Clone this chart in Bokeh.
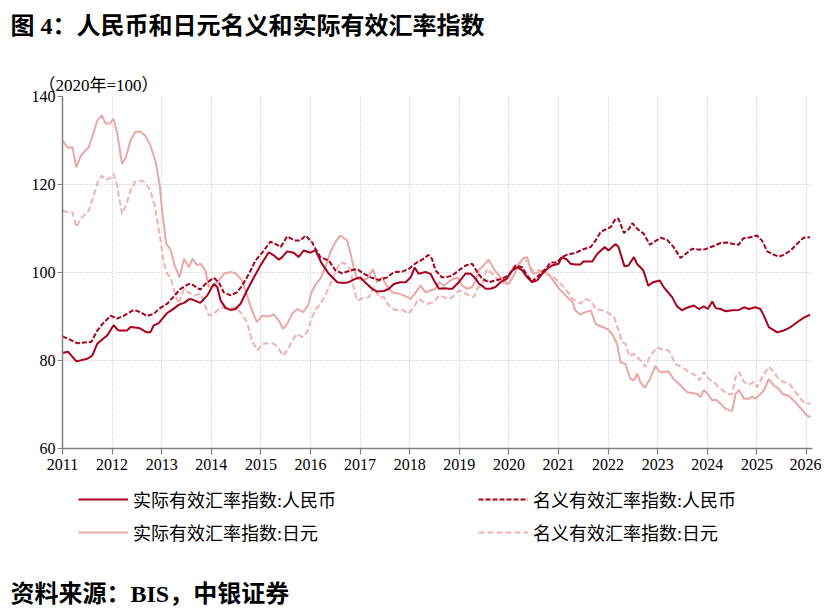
from bokeh.plotting import figure
from bokeh.layouts import column
from bokeh.models import Legend, LegendItem, FixedTicker, Range1d, Title
from bokeh.core.properties import value
from bokeh.embed import file_html
from bokeh.resources import INLINE

# ---------------- data ----------------
title_text = "图 4：人民币和日元名义和实际有效汇率指数"
unit_text = "（2020年=100）"
source_text = "资料来源：BIS，中银证券"
years = list(range(2011, 2027))
year_labels = [str(y) for y in years]
y_ticks = [60, 80, 100, 120, 140]
series_names = ["实际有效汇率指数:人民币", "名义有效汇率指数:人民币",
                "实际有效汇率指数:日元", "名义有效汇率指数:日元"]

rmb_reer_t = [2011.00, 2011.11, 2011.28, 2011.50, 2011.60, 2011.70, 2011.77, 2011.90, 2012.03, 2012.13,
              2012.30, 2012.37, 2012.54, 2012.70, 2012.77, 2012.84, 2012.94, 2013.11, 2013.21, 2013.35,
              2013.45, 2013.55, 2013.61, 2013.78, 2013.92, 2014.05, 2014.12, 2014.19, 2014.29, 2014.39,
              2014.49, 2014.59, 2014.72, 2014.86, 2014.99, 2015.16, 2015.26, 2015.36, 2015.43, 2015.53,
              2015.66, 2015.76, 2015.86, 2016.00, 2016.10, 2016.22, 2016.37, 2016.54, 2016.67, 2016.77,
              2016.91, 2017.00, 2017.10, 2017.24, 2017.34, 2017.48, 2017.58, 2017.68, 2017.81, 2017.92,
              2018.02, 2018.10, 2018.18, 2018.32, 2018.42, 2018.49, 2018.59, 2018.69, 2018.79, 2018.86,
              2018.99, 2019.13, 2019.23, 2019.33, 2019.40, 2019.46, 2019.53, 2019.63, 2019.73, 2019.83,
              2019.96, 2020.07, 2020.17, 2020.27, 2020.37, 2020.47, 2020.57, 2020.67, 2020.77, 2020.87,
              2021.00, 2021.07, 2021.17, 2021.24, 2021.34, 2021.44, 2021.50, 2021.68, 2021.78, 2021.93,
              2022.01, 2022.15, 2022.21, 2022.33, 2022.41, 2022.52, 2022.58, 2022.71, 2022.81, 2022.91,
              2023.04, 2023.12, 2023.29, 2023.39, 2023.49, 2023.59, 2023.73, 2023.83, 2023.93, 2024.01,
              2024.10, 2024.17, 2024.27, 2024.37, 2024.50, 2024.64, 2024.74, 2024.84, 2024.97, 2025.07,
              2025.14, 2025.24, 2025.41, 2025.54, 2025.68, 2025.81, 2025.94, 2026.07]
rmb_reer_v = [81.7, 82.0, 79.8, 80.4, 81.1, 83.8, 84.5, 85.7, 88.0, 86.8,
              86.8, 87.6, 87.4, 86.4, 86.4, 88.0, 88.5, 90.8, 91.5, 92.7,
              93.1, 93.9, 93.9, 93.1, 94.8, 97.4, 96.7, 93.6, 91.9, 91.5,
              91.7, 92.9, 95.9, 98.9, 101.6, 104.6, 103.9, 102.9, 103.5, 104.8,
              104.5, 103.5, 105.0, 104.5, 105.1, 102.2, 99.7, 97.8, 97.6, 97.8,
              98.6, 98.9, 97.8, 96.3, 95.7, 95.8, 96.3, 97.4, 97.8, 97.8,
              98.9, 101.1, 99.7, 100.1, 99.7, 98.2, 96.3, 96.4, 96.3, 96.3,
              97.8, 99.8, 99.7, 98.6, 97.4, 97.0, 96.3, 96.3, 96.7, 97.8,
              98.6, 100.5, 101.2, 100.5, 98.9, 97.8, 98.2, 99.7, 100.8, 101.6,
              102.0, 103.5, 102.9, 102.0, 101.8, 101.8, 102.5, 102.5, 104.2, 105.8,
              105.0, 106.5, 105.8, 101.4, 101.6, 103.5, 102.0, 100.5, 97.0, 97.8,
              98.2, 96.7, 94.4, 92.3, 91.4, 92.0, 92.5, 91.7, 92.3, 91.7,
              93.4, 91.9, 91.7, 91.2, 91.4, 91.5, 92.1, 91.7, 92.1, 91.7,
              90.2, 87.6, 86.4, 86.8, 87.6, 88.7, 89.7, 90.4]

rmb_neer_t = [2011.00, 2011.16, 2011.30, 2011.53, 2011.58, 2011.70, 2011.80, 2011.97, 2012.10, 2012.24,
              2012.44, 2012.57, 2012.70, 2012.84, 2012.94, 2013.11, 2013.24, 2013.38, 2013.55, 2013.61,
              2013.78, 2013.88, 2014.05, 2014.15, 2014.25, 2014.39, 2014.52, 2014.62, 2014.76, 2014.89,
              2015.06, 2015.19, 2015.29, 2015.40, 2015.53, 2015.67, 2015.80, 2015.90, 2016.03, 2016.10,
              2016.20, 2016.37, 2016.50, 2016.64, 2016.81, 2016.94, 2017.08, 2017.21, 2017.38, 2017.55,
              2017.68, 2017.85, 2017.98, 2018.12, 2018.25, 2018.38, 2018.45, 2018.52, 2018.65, 2018.72,
              2018.86, 2018.99, 2019.13, 2019.26, 2019.36, 2019.46, 2019.59, 2019.73, 2019.86, 2019.99,
              2020.13, 2020.27, 2020.37, 2020.47, 2020.60, 2020.74, 2020.84, 2020.97, 2021.07, 2021.20,
              2021.34, 2021.48, 2021.65, 2021.75, 2021.85, 2021.95, 2022.05, 2022.15, 2022.21, 2022.32,
              2022.42, 2022.49, 2022.59, 2022.72, 2022.84, 2022.92, 2023.06, 2023.19, 2023.32, 2023.46,
              2023.56, 2023.70, 2023.83, 2023.93, 2024.10, 2024.27, 2024.40, 2024.53, 2024.63, 2024.73,
              2024.87, 2025.00, 2025.10, 2025.21, 2025.31, 2025.44, 2025.54, 2025.68, 2025.81, 2025.94,
              2026.07]
rmb_neer_v = [85.5, 84.7, 83.9, 84.2, 84.2, 86.8, 88.2, 90.2, 89.5, 90.2,
              91.5, 91.0, 90.1, 90.6, 91.7, 92.9, 94.5, 96.3, 97.4, 97.3,
              96.1, 97.4, 98.8, 97.8, 95.5, 94.8, 95.5, 97.0, 99.7, 102.7,
              105.0, 107.0, 106.5, 105.8, 108.2, 107.3, 107.3, 108.4, 106.9, 105.4,
              103.5, 102.7, 100.5, 99.8, 100.5, 100.8, 99.7, 98.9, 98.3, 98.9,
              100.1, 100.2, 100.8, 102.1, 102.9, 104.0, 103.1, 100.5, 98.9, 98.9,
              99.3, 100.5, 101.6, 102.0, 100.1, 98.6, 97.8, 98.2, 98.6, 99.3,
              101.6, 101.2, 99.3, 98.0, 99.3, 100.8, 102.3, 102.3, 103.5, 104.2,
              104.4, 105.2, 105.8, 107.3, 109.2, 109.8, 110.3, 112.2, 112.2, 109.0,
              109.9, 111.2, 109.9, 108.8, 106.3, 106.9, 107.9, 107.4, 105.8, 103.3,
              104.2, 105.4, 105.2, 105.2, 105.9, 106.7, 106.8, 106.5, 106.3, 107.8,
              108.0, 108.4, 107.3, 104.8, 104.2, 103.6, 104.0, 105.0, 106.5, 107.9,
              108.0]

jpy_reer_t = [2011.00, 2011.11, 2011.20, 2011.28, 2011.37, 2011.53, 2011.63, 2011.70, 2011.79, 2011.87,
              2011.95, 2012.03, 2012.10, 2012.20, 2012.28, 2012.37, 2012.47, 2012.57, 2012.67, 2012.77,
              2012.88, 2012.96, 2013.02, 2013.09, 2013.18, 2013.26, 2013.36, 2013.45, 2013.55, 2013.62,
              2013.72, 2013.78, 2013.88, 2013.95, 2014.05, 2014.15, 2014.25, 2014.39, 2014.49, 2014.62,
              2014.72, 2014.82, 2014.92, 2015.03, 2015.16, 2015.26, 2015.36, 2015.45, 2015.53, 2015.63,
              2015.73, 2015.85, 2015.95, 2016.02, 2016.11, 2016.20, 2016.30, 2016.40, 2016.50, 2016.60,
              2016.74, 2016.80, 2016.87, 2016.94, 2017.04, 2017.14, 2017.26, 2017.34, 2017.44, 2017.54,
              2017.65, 2017.78, 2017.88, 2018.02, 2018.12, 2018.22, 2018.32, 2018.42, 2018.52, 2018.60,
              2018.69, 2018.82, 2018.96, 2019.06, 2019.16, 2019.26, 2019.33, 2019.39, 2019.49, 2019.59,
              2019.70, 2019.80, 2019.90, 2020.00, 2020.10, 2020.20, 2020.30, 2020.37, 2020.44, 2020.50,
              2020.60, 2020.74, 2020.87, 2021.01, 2021.14, 2021.28, 2021.34, 2021.44, 2021.54, 2021.65,
              2021.75, 2021.88, 2021.98, 2022.08, 2022.18, 2022.25, 2022.35, 2022.45, 2022.52, 2022.59,
              2022.65, 2022.74, 2022.83, 2022.95, 2023.04, 2023.22, 2023.32, 2023.45, 2023.59, 2023.70,
              2023.80, 2023.86, 2023.93, 2024.01, 2024.10, 2024.17, 2024.27, 2024.37, 2024.50, 2024.57,
              2024.64, 2024.74, 2024.84, 2024.90, 2024.97, 2025.07, 2025.14, 2025.24, 2025.34, 2025.44,
              2025.52, 2025.64, 2025.78, 2025.91, 2026.01, 2026.08]
jpy_reer_v = [130.0, 128.3, 128.5, 123.9, 126.6, 128.5, 131.9, 134.5, 135.7, 133.8,
              133.9, 134.9, 131.9, 124.7, 126.2, 130.0, 132.0, 132.0, 131.1, 128.9,
              125.1, 119.8, 113.0, 106.5, 105.2, 101.6, 98.9, 103.1, 101.2, 103.1,
              101.6, 102.0, 100.5, 96.7, 97.0, 98.2, 99.7, 100.1, 99.8, 98.2,
              94.8, 91.4, 88.7, 90.2, 90.0, 90.5, 89.1, 87.2, 88.3, 90.6,
              91.7, 91.0, 92.5, 95.5, 97.4, 98.6, 101.2, 104.6, 106.9, 108.4,
              107.3, 104.6, 101.2, 98.6, 98.2, 98.6, 100.8, 97.8, 98.9, 97.0,
              95.5, 95.2, 94.8, 94.0, 95.5, 97.0, 95.5, 95.9, 96.3, 97.8,
              97.0, 98.2, 98.9, 97.0, 96.3, 96.7, 98.2, 100.5, 101.6, 102.9,
              100.8, 99.3, 98.2, 97.4, 99.3, 102.0, 103.3, 103.5, 100.5, 99.7,
              100.1, 100.1, 98.6, 96.3, 94.8, 93.3, 91.4, 90.4, 91.0, 91.4,
              88.3, 87.6, 87.2, 86.1, 83.8, 79.6, 79.2, 75.8, 75.5, 77.0,
              75.1, 73.8, 75.5, 78.7, 77.4, 77.5, 75.8, 74.5, 72.8, 72.6,
              72.4, 71.7, 73.3, 72.4, 70.9, 71.1, 70.2, 69.0, 68.5, 72.4,
              73.3, 71.3, 71.3, 71.8, 71.3, 72.4, 73.2, 75.8, 74.3, 73.6,
              72.4, 72.0, 70.5, 68.8, 67.5, 67.1]

jpy_neer_t = [2011.00, 2011.12, 2011.20, 2011.28, 2011.37, 2011.53, 2011.63, 2011.70, 2011.79, 2011.87,
              2011.95, 2012.03, 2012.10, 2012.20, 2012.28, 2012.37, 2012.47, 2012.57, 2012.67, 2012.77,
              2012.86, 2012.96, 2013.04, 2013.11, 2013.18, 2013.26, 2013.34, 2013.45, 2013.55, 2013.68,
              2013.78, 2013.85, 2013.95, 2014.05, 2014.15, 2014.25, 2014.39, 2014.49, 2014.62, 2014.72,
              2014.82, 2014.93, 2015.03, 2015.16, 2015.26, 2015.36, 2015.44, 2015.53, 2015.63, 2015.73,
              2015.83, 2015.93, 2016.02, 2016.11, 2016.20, 2016.30, 2016.40, 2016.50, 2016.60, 2016.71,
              2016.81, 2016.87, 2016.94, 2017.04, 2017.18, 2017.28, 2017.38, 2017.48, 2017.58, 2017.71,
              2017.85, 2017.98, 2018.08, 2018.18, 2018.28, 2018.38, 2018.49, 2018.59, 2018.69, 2018.79,
              2018.86, 2018.99, 2019.09, 2019.19, 2019.29, 2019.36, 2019.46, 2019.56, 2019.63, 2019.73,
              2019.83, 2019.97, 2020.07, 2020.17, 2020.27, 2020.37, 2020.47, 2020.57, 2020.67, 2020.77,
              2020.87, 2021.01, 2021.14, 2021.28, 2021.34, 2021.44, 2021.54, 2021.65, 2021.75, 2021.88,
              2021.98, 2022.12, 2022.20, 2022.28, 2022.35, 2022.43, 2022.52, 2022.59, 2022.69, 2022.75,
              2022.85, 2022.99, 2023.09, 2023.22, 2023.36, 2023.49, 2023.63, 2023.76, 2023.84, 2023.93,
              2024.03, 2024.13, 2024.27, 2024.40, 2024.50, 2024.57, 2024.64, 2024.74, 2024.84, 2024.94,
              2025.00, 2025.11, 2025.24, 2025.34, 2025.44, 2025.54, 2025.66, 2025.78, 2025.91, 2026.01,
              2026.08]
jpy_neer_v = [114.1, 113.6, 113.7, 110.3, 112.2, 114.1, 117.5, 120.2, 122.0, 121.1,
              121.4, 122.4, 119.8, 113.3, 115.2, 118.6, 120.7, 120.9, 120.5, 118.6,
              115.2, 108.4, 102.3, 99.7, 98.9, 95.5, 92.9, 96.3, 95.4, 94.8,
              95.2, 93.3, 90.2, 90.6, 91.7, 92.1, 91.9, 92.1, 90.6, 88.7,
              84.5, 82.3, 83.8, 83.9, 83.8, 82.7, 81.1, 82.3, 84.5, 86.1,
              85.3, 86.4, 89.5, 91.7, 92.9, 94.8, 97.4, 100.1, 102.3, 102.0,
              100.5, 96.7, 93.6, 94.2, 94.4, 96.7, 94.4, 94.4, 92.5, 91.5,
              91.5, 90.6, 92.1, 94.0, 93.3, 92.9, 93.3, 94.8, 94.4, 94.0,
              94.4, 95.9, 95.5, 94.8, 94.4, 96.3, 97.4, 100.8, 100.1, 98.9,
              97.8, 97.4, 98.9, 101.2, 102.7, 102.7, 100.5, 100.5, 100.5, 99.7,
              99.3, 97.8, 96.3, 94.0, 93.6, 92.9, 94.0, 93.6, 91.7, 91.4,
              91.0, 89.9, 87.2, 84.2, 83.8, 80.9, 81.5, 80.8, 79.6, 78.5,
              81.1, 83.0, 82.5, 82.3, 79.2, 78.5, 77.4, 76.6, 75.5, 77.4,
              75.8, 75.1, 73.6, 72.4, 72.3, 76.2, 77.4, 75.1, 74.5, 75.1,
              73.9, 76.2, 78.6, 77.4, 75.8, 75.1, 74.7, 72.8, 70.9, 70.2,
              70.2]

# ---------------- styling / layout ----------------
DARK = "#A8001E"
LIGHT = "#EBA6A6"
LIGHT_DASH = "#EFB2B2"
SERIF = "'Liberation Serif', 'Noto Sans CJK SC'"

W = 821
H_TOP, H_MAIN, H_BOT = 60, 420, 136
FRAME_L, FRAME_T, FRAME_W, FRAME_H = 62, 36, 750, 352


def blank(height):
    f = figure(width=W, height=height, output_backend="svg", toolbar_location=None,
               x_range=Range1d(0, W), y_range=Range1d(height, 0),
               x_axis_type=None, y_axis_type=None,
               min_border=0, min_border_left=0, min_border_right=0,
               min_border_top=0, min_border_bottom=0, frame_align=False)
    f.outline_line_color = None
    f.xgrid.visible = False
    f.ygrid.visible = False
    f.background_fill_color = "white"
    f.border_fill_color = "white"
    return f


# --- top: title ---
top = blank(H_TOP)
top.text(x=[10], y=[25], text=[title_text], text_font=value(SERIF),
         text_font_size="24px", text_font_style="bold", text_baseline="middle",
         text_color="#000000")

# --- main chart ---
p = figure(width=W, height=H_MAIN, output_backend="svg", toolbar_location=None,
           x_range=Range1d(2011, 2026.121), y_range=Range1d(60, 140),
           min_border_left=FRAME_L, min_border_right=W - FRAME_L - FRAME_W,
           min_border_top=FRAME_T, min_border_bottom=H_MAIN - FRAME_T - FRAME_H,
           frame_align=False)
p.outline_line_color = None
p.background_fill_color = "white"
p.border_fill_color = "white"

unit_title = Title(text=unit_text, align="left", offset=-24, standoff=3,
                   text_font=SERIF, text_font_size="17px", text_font_style="normal",
                   text_color="#000000")
p.add_layout(unit_title, "above")

for ax in (p.xaxis[0], p.yaxis[0]):
    ax.axis_line_color = "#808080"
    ax.axis_line_width = 1.5
    ax.major_tick_line_color = "#808080"
    ax.major_tick_line_width = 1.2
    ax.minor_tick_line_color = None
    ax.major_tick_in = 0
    ax.major_label_text_font = SERIF
    ax.major_label_text_font_size = "16px"
    ax.major_label_text_color = "#000000"

p.xaxis.ticker = FixedTicker(ticks=years)
p.xaxis.major_label_overrides = {y: lab for y, lab in zip(years, year_labels)}
p.xaxis.major_tick_out = 6
p.xaxis.major_label_standoff = 4
p.yaxis.ticker = FixedTicker(ticks=y_ticks)
p.yaxis.major_tick_out = 5
p.yaxis.major_label_standoff = 2

for g in (p.xgrid[0], p.ygrid[0]):
    g.grid_line_color = "#BDBDBD"
    g.grid_line_dash = "1 2"
    g.grid_line_width = 1

p.line(jpy_reer_t, jpy_reer_v, line_color=LIGHT, line_width=2)
p.line(jpy_neer_t, jpy_neer_v, line_color=LIGHT_DASH, line_width=2, line_dash="6 3")
p.line(rmb_reer_t, rmb_reer_v, line_color=DARK, line_width=2)
p.line(rmb_neer_t, rmb_neer_v, line_color=DARK, line_width=2, line_dash="5 2")

# --- bottom: legend + source ---
bot = blank(H_BOT)
styles = [dict(line_color=DARK, line_width=2),
          dict(line_color=DARK, line_width=2, line_dash="5 2"),
          dict(line_color=LIGHT, line_width=2),
          dict(line_color=LIGHT_DASH, line_width=2, line_dash="6 3")]
items = []
for name, st in zip(series_names, styles):
    r = bot.line([float("nan")], [float("nan")], **st)   # legend-only renderer
    items.append(LegendItem(label=name, renderers=[r]))
legend = Legend(items=items, orientation="horizontal", ncols=2,
                location=(78, 71),
                glyph_width=50, glyph_height=20, label_standoff=5,
                label_width=338, label_height=20, spacing=7,
                padding=0, margin=0,
                border_line_color=None, background_fill_alpha=0,
                label_text_font=SERIF, label_text_font_size="18px",
                label_text_color="#000000")
bot.add_layout(legend, "center")
bot.text(x=[10], y=[113], text=[source_text], text_font=value(SERIF),
         text_font_size="24px", text_font_style="bold", text_baseline="middle",
         text_color="#000000")

layout = column(top, p, bot, spacing=0)
open("out.html", "w").write(file_html(layout, INLINE))
